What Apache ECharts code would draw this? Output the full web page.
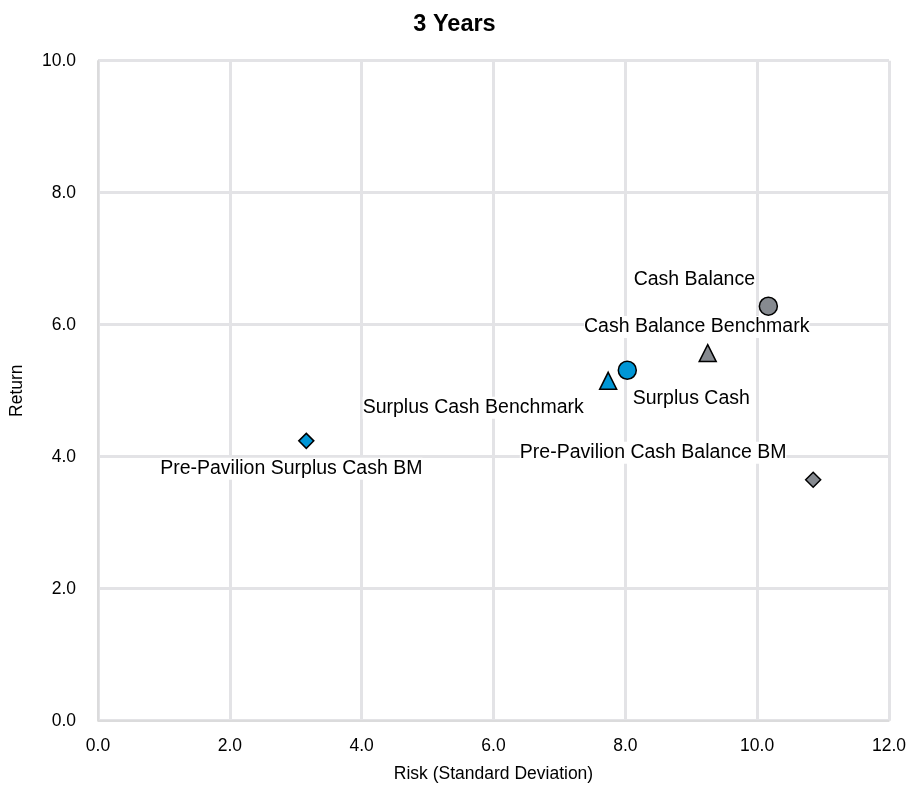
<!DOCTYPE html>
<html>
<head>
<meta charset="utf-8">
<script src="https://cdn.jsdelivr.net/npm/echarts@6/dist/echarts.min.js"></script>
<style>html,body{margin:0;padding:0;background:#fff;}#c{width:909px;height:792px;}</style>
</head>
<body>
<div id="c"></div>
<script>
// Data
var names = ["Cash Balance", "Cash Balance Benchmark", "Surplus Cash", "Surplus Cash Benchmark", "Pre-Pavilion Surplus Cash BM", "Pre-Pavilion Cash Balance BM"];
var risk = [10.17, 9.25, 8.03, 7.74, 3.16, 10.85];
var ret = [6.28, 5.57, 5.31, 5.15, 4.24, 3.65];
var xTicks = [0, 2, 4, 6, 8, 10, 12];
var yTicks = [0, 2, 4, 6, 8, 10];

// Styles
var FONT = 'Liberation Sans, Arial, sans-serif';
var symbols = ['circle', 'triangle', 'circle', 'triangle', 'diamond', 'diamond'];
var sizes = [18, 17, 18, 17, 15, 15];
var colors = ['#868a90', '#868a90', '#0096d6', '#0096d6', '#0096d6', '#868a90'];
var offsets = [[-74, -27], [-11, -26], [64, 28], [-135, 27], [-15, 28], [-160, -27]];

var series = names.map(function (n, i) {
  return {
    type: 'scatter',
    name: n,
    symbol: symbols[i],
    symbolSize: sizes[i],
    itemStyle: { color: colors[i], borderColor: '#000', borderWidth: 1.5, opacity: 1 },
    emphasis: { disabled: true },
    label: {
      show: true,
      position: 'inside',
      offset: offsets[i],
      formatter: n,
      color: '#000',
      fontFamily: FONT,
      fontSize: 19.5,
      backgroundColor: '#fff',
      padding: [1, 0, 1, 0]
    },
    data: [[risk[i], ret[i]]]
  };
});

var chart = echarts.init(document.getElementById('c'));
chart.setOption({
  animation: false,
  backgroundColor: '#fff',
  title: {
    text: '3 Years', left: 'center', top: 8,
    textStyle: { fontFamily: FONT, fontSize: 23.5, fontWeight: 'bold', color: '#000' }
  },
  grid: { left: 97.5, right: 18, top: 60.7, bottom: 71.3 },
  xAxis: {
    type: 'value', min: xTicks[0], max: xTicks[xTicks.length - 1], interval: 2,
    name: 'Risk (Standard Deviation)', nameLocation: 'middle', nameGap: 44,
    nameTextStyle: { fontFamily: FONT, fontSize: 17.5, color: '#000' },
    axisLine: { show: true, lineStyle: { color: '#d9d9d9', width: 1.5 } },
    axisTick: { show: false },
    axisLabel: { formatter: function (v) { return v.toFixed(1); }, fontFamily: FONT, fontSize: 17.5, color: '#000', margin: 16 },
    splitLine: { show: true, lineStyle: { color: '#e3e3e6', width: 3 } }
  },
  yAxis: {
    type: 'value', min: yTicks[0], max: yTicks[yTicks.length - 1], interval: 2,
    name: 'Return', nameLocation: 'middle', nameGap: 72, nameRotate: 90,
    nameTextStyle: { fontFamily: FONT, fontSize: 17.5, color: '#000' },
    axisLine: { show: true, lineStyle: { color: '#d9d9d9', width: 1.5 } },
    axisTick: { show: false },
    axisLabel: { formatter: function (v) { return v.toFixed(1); }, fontFamily: FONT, fontSize: 17.5, color: '#000', margin: 22 },
    splitLine: { show: true, lineStyle: { color: '#e3e3e6', width: 3 } }
  },
  series: series
});
</script>
</body>
</html>
